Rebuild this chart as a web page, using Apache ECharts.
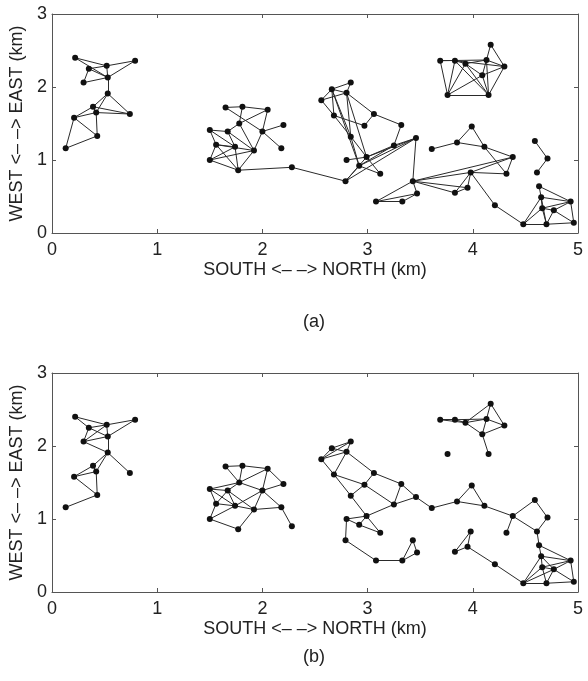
<!DOCTYPE html>
<html>
<head>
<meta charset="utf-8">
<script src="https://cdn.jsdelivr.net/npm/echarts@6/dist/echarts.min.js"></script>
<style>
  html, body { margin: 0; padding: 0; background: #fff; }
  #chart { width: 588px; height: 681px; }
</style>
</head>
<body>
<div id="chart"></div>
<script>
"use strict";

/*****Data start*****/
// node positions in km (same nodes in both panels)
var nodeNames = ['A1','A2','A3','A4','A5','A6','A7','A8','A9','A10','A11','A12','A13',
	'B1','B2','B3','B4','B5','B6','B7','B8','B9','B10','B11','B12','B13','B14','B15',
	'C1','C2','C3','C4','C5','C6','C7','C8','C9','C10','C11','C12','C13','C14','C15','C16',
	'D1','D2','D3','D4','D5','D6','D7','D8','D9','D10','D11','D12','D13','D14','D15','D16','D17',
	'E1','E2','E3','E4','E5','E6','E7','E8',
	'F1','F2','F3','F4','F5','F6','F7','F8','F9'];
var nodeX = [0.22,0.35,0.52,0.79,0.30,0.53,0.53,0.39,0.42,0.74,0.21,0.43,0.13,
	1.65,1.81,2.05,2.20,1.78,2.00,1.50,1.67,1.56,1.74,1.92,2.18,1.50,1.77,2.28,
	2.84,2.66,2.80,2.56,2.68,3.06,2.97,3.32,2.84,3.25,3.46,2.80,2.99,2.92,3.12,2.79,
	3.43,3.08,3.33,3.47,3.61,3.85,3.99,4.11,4.38,3.98,3.83,3.95,4.32,4.21,4.59,4.71,4.61,
	4.63,4.65,4.93,4.66,4.77,4.48,4.70,4.96,
	4.17,3.69,3.83,3.93,4.13,4.30,4.09,3.76,4.15];
var nodeY = [2.40,2.25,2.29,2.36,2.06,2.13,1.91,1.73,1.65,1.63,1.58,1.33,1.16,
	1.72,1.73,1.69,1.48,1.50,1.39,1.41,1.39,1.21,1.18,1.13,1.16,1.00,0.86,0.90,
	2.06,1.97,1.92,1.82,1.61,1.63,1.47,1.48,1.32,1.20,1.30,1.00,1.04,0.92,0.81,0.71,
	0.71,0.43,0.43,0.54,1.15,1.24,1.46,1.18,1.04,0.83,0.55,0.62,0.81,0.38,1.26,1.02,0.83,
	0.64,0.49,0.43,0.34,0.31,0.12,0.12,0.14,
	2.58,2.36,2.36,2.32,2.37,2.28,2.16,1.89,1.89];

// links of panel (a)
var linksA = [
	['A1','A3'],['A1','A6'],['A2','A3'],['A2','A6'],['A2','A5'],['A3','A4'],['A3','A6'],['A4','A6'],
	['A5','A6'],['A6','A7'],['A7','A8'],['A7','A9'],['A7','A10'],['A8','A9'],['A8','A10'],['A9','A10'],
	['A8','A11'],['A9','A11'],['A11','A12'],['A11','A13'],['A9','A12'],['A12','A13'],
	['B1','B2'],['B1','B6'],['B2','B5'],['B2','B3'],['B3','B5'],['B3','B6'],['B4','B6'],['B6','B12'],
	['B6','B11'],['B5','B8'],['B5','B11'],['B7','B8'],['B7','B9'],['B7','B10'],['B8','B10'],['B8','B11'],
	['B9','B10'],['B9','B11'],['B9','B13'],['B9','B14'],['B10','B14'],['B13','B14'],['B13','B10'],
	['B13','B11'],['B11','B14'],['B14','B15'],['B15','C16'],
	['C1','C2'],['C1','C3'],['C2','C3'],['C2','C4'],['C3','C4'],['C4','C5'],['C2','C5'],['C2','C9'],
	['C3','C9'],['C3','C6'],['C5','C7'],['C6','C7'],['C6','C8'],['C5','C9'],['C8','C10'],['C2','C14'],
	['C3','C13'],['C9','C13'],['C9','C14'],['C10','C13'],['C10','C14'],['C11','C13'],['C11','C14'],
	['C11','C16'],['C10','C11'],['C12','C13'],['C13','C15'],['C14','C15'],['C14','C16'],['C13','C16'],
	['C11','D1'],
	['D1','D2'],['D2','D3'],['D2','D4'],['D3','D4'],['D1','D4'],['D1','D9'],['D1','D10'],['D1','D11'],
	['D1','D12'],['D5','D6'],['D6','D7'],['D7','D8'],['D6','D8'],['D8','D9'],['D8','D13'],['D9','D13'],
	['D9','D10'],['D10','D13'],['D10','D11'],['D10','D12'],['D11','D12'],['D10','D14'],['D14','E6'],
	['D15','D16'],['D16','D17'],
	['E1','E2'],['E1','E3'],['E2','E3'],['E2','E4'],['E2','E6'],['E3','E4'],['E3','E5'],['E3','E8'],
	['E4','E5'],['E4','E6'],['E4','E7'],['E5','E7'],['E5','E8'],['E6','E7'],['E7','E8'],['E2','E7'],
	['F1','F5'],['F1','F6'],['F2','F3'],['F2','F5'],['F3','F4'],['F4','F5'],['F2','F8'],['F3','F8'],
	['F4','F8'],['F7','F8'],['F3','F9'],['F4','F9'],['F5','F9'],['F6','F9'],['F7','F9'],['F8','F9'],
	['F5','F6'],['F6','F7'],['F3','F6'],['F5','F7'],['F4','F7']
];

// links of panel (b)
var linksB = [
	['A1','A2'],['A1','A3'],['A2','A3'],['A2','A6'],['A2','A5'],['A3','A5'],['A5','A6'],['A3','A4'],
	['A4','A6'],['A3','A6'],['A6','A7'],['A5','A7'],['A7','A8'],['A7','A9'],['A7','A10'],['A8','A9'],
	['A8','A11'],['A9','A11'],['A11','A12'],['A9','A12'],['A12','A13'],
	['B1','B2'],['B2','B3'],['B1','B5'],['B2','B5'],['B3','B5'],['B5','B6'],['B5','B8'],['B5','B7'],
	['B3','B6'],['B3','B4'],['B4','B6'],['B6','B11'],['B6','B12'],['B6','B10'],['B11','B12'],['B12','B15'],
	['B7','B8'],['B7','B9'],['B7','B10'],['B8','B9'],['B8','B10'],['B8','B11'],['B9','B10'],['B9','B13'],
	['B13','B14'],['B13','B10'],['B14','B11'],['B10','B11'],
	['C1','C2'],['C1','C3'],['C2','C3'],['C2','C4'],['C3','C4'],['C1','C4'],['C4','C5'],['C3','C5'],
	['C3','C6'],['C5','C7'],['C5','C9'],['C6','C7'],['C7','C9'],['C6','C8'],['C7','C10'],['C8','C10'],
	['C8','C11'],['C9','C13'],['C10','C13'],['C10','C11'],['C11','D5'],['C12','C13'],['C12','C14'],
	['C13','C14'],['C13','C15'],['C14','C15'],['C12','C16'],['C16','D2'],
	['D2','D3'],['D3','D4'],['D1','D3'],['D1','D4'],['D5','D6'],['D6','D7'],['D7','D8'],['D6','D8'],
	['D8','D9'],['D9','D15'],['D15','D16'],['D16','D17'],['D9','D17'],['D9','D13'],['D10','D11'],
	['D10','D12'],['D11','D12'],['D12','D14'],['D14','E6'],['D17','E1'],
	['E1','E2'],['E1','E3'],['E2','E3'],['E2','E4'],['E2','E5'],['E2','E6'],['E3','E4'],['E3','E5'],
	['E3','E8'],['E4','E5'],['E4','E6'],['E4','E7'],['E5','E6'],['E5','E7'],['E5','E8'],['E6','E7'],
	['E7','E8'],
	['F2','F3'],['F2','F4'],['F3','F4'],['F3','F5'],['F4','F5'],['F4','F1'],['F1','F5'],['F1','F6'],
	['F5','F6'],['F5','F7'],['F4','F7'],['F6','F7'],['F7','F9']
];

var xTicks = [0, 1, 2, 3, 4, 5];
var yTicks = [0, 1, 2, 3];
var panelLabels = ['(a)', '(b)'];
/*****Data end*****/

var fontFamily = "'Liberation Sans', Arial, sans-serif";
var axisColor = '#555';
var textColor = '#222';

var nodes = nodeNames.map(function (n, i) {
	return { name: n, value: [nodeX[i], nodeY[i]] };
});
function toLinks(list) {
	return list.map(function (p) { return { source: p[0], target: p[1] }; });
}

var grids = [
	{ left: 52, top: 14, width: 526, height: 219 },
	{ left: 52, top: 373, width: 526, height: 219 }
];

function xAxisFor(g, pos) {
	var bottom = pos === 'bottom';
	return {
		type: 'value', gridIndex: g, position: pos,
		min: xTicks[0], max: xTicks[xTicks.length - 1], interval: 1,
		name: bottom ? 'SOUTH <\u2013 \u2013> NORTH (km)' : '',
		nameLocation: 'middle', nameGap: 28,
		nameTextStyle: { fontSize: 18, color: textColor, fontFamily: fontFamily },
		axisLine: { show: true, onZero: false, lineStyle: { color: axisColor, width: 1 } },
		axisTick: { show: true, inside: true, length: 4, lineStyle: { color: axisColor } },
		axisLabel: { show: bottom, fontSize: 18, color: textColor, fontFamily: fontFamily, margin: 8 },
		splitLine: { show: false }
	};
}
function yAxisFor(g, pos) {
	var left = pos === 'left';
	return {
		type: 'value', gridIndex: g, position: pos,
		min: yTicks[0], max: yTicks[yTicks.length - 1], interval: 1,
		name: left ? 'WEST <\u2013 \u2013> EAST (km)' : '',
		nameLocation: 'middle', nameGap: 22, nameRotate: 90,
		nameTextStyle: { fontSize: 18, color: textColor, fontFamily: fontFamily },
		axisLine: { show: true, onZero: false, lineStyle: { color: axisColor, width: 1 } },
		axisTick: { show: true, inside: true, length: 4, lineStyle: { color: axisColor } },
		axisLabel: { show: left, fontSize: 18, color: textColor, fontFamily: fontFamily, margin: 5 },
		splitLine: { show: false }
	};
}

function graphSeries(idx, links) {
	return {
		type: 'graph',
		coordinateSystem: 'cartesian2d',
		xAxisIndex: idx * 2,
		yAxisIndex: idx * 2,
		layout: 'none',
		symbol: 'circle',
		symbolSize: 6,
		data: nodes,
		links: toLinks(links),
		itemStyle: { color: '#111' },
		lineStyle: { color: '#2a2a2a', width: 1, opacity: 1, curveness: 0 },
		label: { show: false },
		emphasis: { disabled: true },
		silent: true
	};
}

var chart = echarts.init(document.getElementById('chart'), null, { renderer: 'canvas' });
chart.setOption({
	animation: false,
	backgroundColor: '#fff',
	grid: grids,
	xAxis: [xAxisFor(0, 'bottom'), xAxisFor(0, 'top'), xAxisFor(1, 'bottom'), xAxisFor(1, 'top')],
	yAxis: [yAxisFor(0, 'left'), yAxisFor(0, 'right'), yAxisFor(1, 'left'), yAxisFor(1, 'right')],
	graphic: [
		{ type: 'text', x: 314, y: 322, style: { text: panelLabels[0], fill: textColor, font: "18px 'Liberation Sans', Arial, sans-serif", textAlign: 'center', textVerticalAlign: 'middle' } },
		{ type: 'text', x: 314, y: 657, style: { text: panelLabels[1], fill: textColor, font: "18px 'Liberation Sans', Arial, sans-serif", textAlign: 'center', textVerticalAlign: 'middle' } }
	],
	series: [graphSeries(0, linksA), graphSeries(1, linksB)]
});
</script>
</body>
</html>
